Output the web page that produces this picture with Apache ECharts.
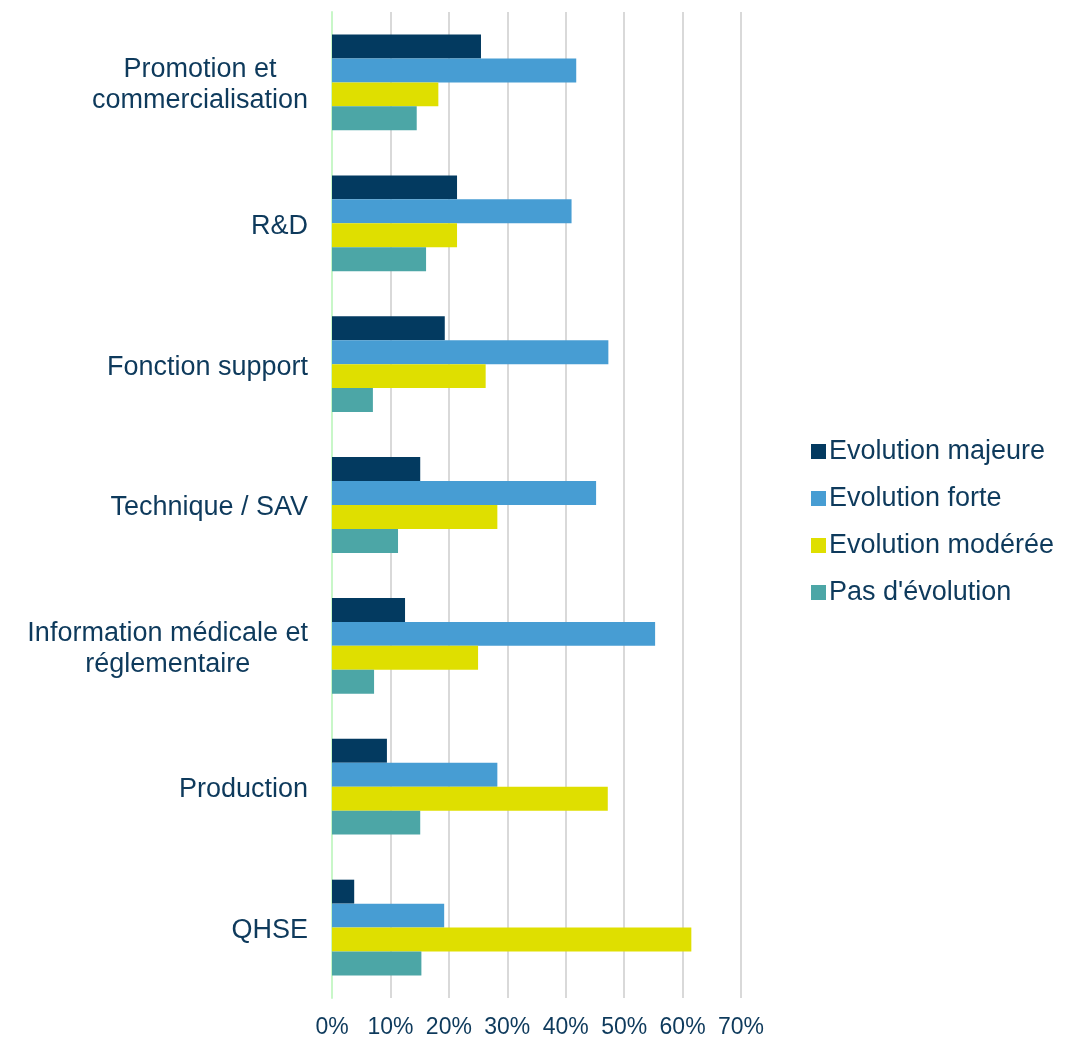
<!DOCTYPE html>
<html>
<head>
<meta charset="utf-8">
<script src="https://cdn.jsdelivr.net/npm/echarts@6/dist/echarts.min.js"></script>
<style>
  html, body { margin: 0; padding: 0; background: #ffffff; }
  #chart { width: 1065px; height: 1037px; }
</style>
</head>
<body>
<div id="chart"></div>
<script>
// Domains, top to bottom
const categories = [
  'Promotion et\ncommercialisation',
  'R&D',
  'Fonction support',
  'Technique / SAV',
  'Information médicale et\nréglementaire',
  'Production',
  'QHSE'
];

const seriesNames = ['Evolution majeure', 'Evolution forte', 'Evolution modérée', "Pas d'évolution"];

// Shares of respondents (%), one value per domain
const majeure = [25.5, 21.4, 19.3, 15.1, 12.5, 9.4, 3.8];
const forte   = [41.8, 41.0, 47.3, 45.2, 55.3, 28.3, 19.2];
const moderee = [18.2, 21.4, 26.3, 28.3, 25.0, 47.2, 61.5];
const aucune  = [14.5, 16.1, 7.0, 11.3, 7.2, 15.1, 15.3];

const xTicks = { min: 0, max: 70, step: 10 };

const colors = ['#033a60', '#479dd3', '#dfdf00', '#4ca6a6'];
const textColor = '#0e3a5c';
const font = 'Liberation Sans, Arial, sans-serif';

const values = [majeure, forte, moderee, aucune];

const chart = echarts.init(document.getElementById('chart'), null, { renderer: 'canvas' });

chart.setOption({
  animation: false,
  backgroundColor: '#ffffff',
  grid: { left: 332, right: 324, top: 12, bottom: 39, containLabel: false, outerBoundsMode: 'none' },
  legend: {
    orient: 'vertical',
    left: 806,
    top: 433,
    icon: 'rect',
    itemWidth: 15,
    itemHeight: 15,
    itemGap: 20,
    textStyle: { fontFamily: font, fontSize: 27, lineHeight: 27, color: textColor, padding: [0, 0, 0, -2] },
    data: seriesNames
  },
  xAxis: {
    type: 'value',
    min: xTicks.min,
    max: xTicks.max,
    interval: xTicks.step,
    axisLine: { show: false },
    axisTick: { show: false },
    splitLine: { lineStyle: { color: '#d9d9d9', width: 2 } },
    axisLabel: {
      formatter: v => v + '%',
      fontFamily: font,
      fontSize: 23,
      color: textColor,
      margin: 18
    }
  },
  yAxis: {
    type: 'category',
    inverse: true,
    data: categories,
    axisLine: { show: true, lineStyle: { color: '#c8f7c8', width: 2 } },
    axisTick: { show: false },
    axisLabel: {
      margin: 24,
      fontFamily: font,
      fontSize: 27,
      color: textColor,
      padding: [6, 0, 0, 0],
      formatter: v => v.split('\n').map(s => '{c|' + s + '}').join('\n'),
      rich: {
        c: { align: 'center', fontFamily: font, fontSize: 27, color: textColor, lineHeight: 31 }
      }
    }
  },
  series: seriesNames.map((name, i) => ({
    name: name,
    type: 'bar',
    data: values[i],
    barGap: '0%',
    barCategoryGap: '32%',
    itemStyle: { color: colors[i] }
  }))
});
</script>
</body>
</html>
